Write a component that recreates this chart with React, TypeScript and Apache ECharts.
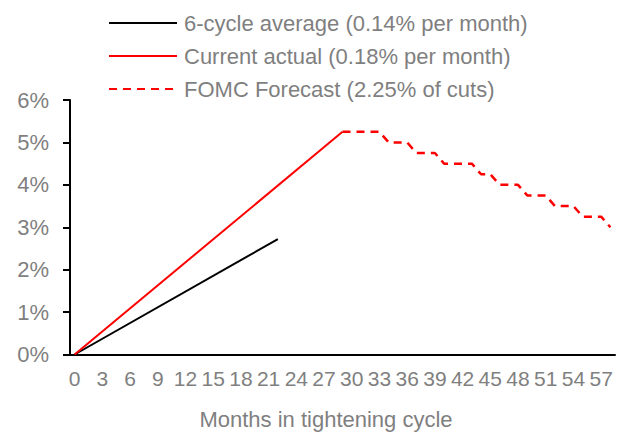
import React, { useEffect, useRef } from "react";
import * as echarts from "echarts";

const months: string[] = Array.from({ length: 59 }, (_, i) => String(i));
const yTicks = [0, 1, 2, 3, 4, 5, 6];

const avgName = "6-cycle average (0.14% per month)";
const actualName = "Current actual (0.18% per month)";
const forecastName = "FOMC Forecast (2.25% of cuts)";

// [month, rate %]
const avgPoints: [number, number][] = [
  [0, 0],
  [22, 2.72],
];
const actualPoints: [number, number][] = [
  [0, 0],
  [29, 5.25],
];
const forecastPoints: [number, number][] = [
  [29, 5.25], [33, 5.25], [34, 5.0], [36, 5.0], [37, 4.75], [39, 4.75],
  [40, 4.5], [43, 4.5], [44, 4.25], [45, 4.25], [46, 4.0], [48, 4.0],
  [49, 3.75], [51, 3.75], [52, 3.5], [54, 3.5], [55, 3.25], [57, 3.25],
  [58, 3.0],
];

const GREY = "#7f7f7f";
const FONT = "'Liberation Sans', Arial, sans-serif";

export default function App() {
  const ref = useRef<HTMLDivElement>(null);
  useEffect(() => {
    if (!ref.current) return;
    const chart = echarts.init(ref.current, undefined, { renderer: "svg" });
    chart.setOption({
      animation: false,
      backgroundColor: "#ffffff",
      textStyle: { fontFamily: FONT },
      legend: {
        orient: "vertical",
        left: 103,
        top: 7,
        itemWidth: 68,
        itemHeight: 14,
        itemGap: 11,
        itemStyle: { opacity: 0 },
        textStyle: { color: GREY, fontSize: 22, fontFamily: FONT, padding: [0, 0, 0, 2] },
        data: [avgName, actualName, forecastName],
      },
      grid: { left: 70, right: 11, top: 100, bottom: 78.5, containLabel: false },
      xAxis: {
        type: "category",
        data: months,
        boundaryGap: true,
        axisLine: { lineStyle: { color: "#000", width: 2 } },
        axisTick: { show: false },
        axisLabel: {
          interval: 2,
          color: GREY,
          fontSize: 21,
          margin: 13,
          fontFamily: FONT,
        },
        splitLine: { show: false },
      },
      yAxis: {
        type: "value",
        min: yTicks[0],
        max: yTicks[yTicks.length - 1],
        interval: 1,
        axisLine: { show: true, lineStyle: { color: "#000", width: 2 } },
        axisTick: { show: true, length: 7, lineStyle: { color: "#000", width: 2 } },
        axisLabel: { color: GREY, fontSize: 22, margin: 21, formatter: "{value}%", fontFamily: FONT },
        splitLine: { show: false },
      },
      graphic: [
        {
          type: "text",
          x: 326,
          y: 419,
          style: {
            text: "Months in tightening cycle",
            fill: GREY,
            fontSize: 22,
            fontFamily: FONT,
            align: "center",
            verticalAlign: "middle",
          },
        },
      ],
      series: [
        {
          name: avgName,
          type: "line",
          data: avgPoints,
          symbol: "none",
          lineStyle: { color: "#000000", width: 2 },
          itemStyle: { color: "#000000" },
        },
        {
          name: actualName,
          type: "line",
          data: actualPoints,
          symbol: "none",
          lineStyle: { color: "#ff0000", width: 2 },
          itemStyle: { color: "#ff0000" },
        },
        {
          name: forecastName,
          type: "line",
          data: forecastPoints,
          symbol: "none",
          lineStyle: { color: "#ff0000", width: 2.5, type: [8, 6] },
          itemStyle: { color: "#ff0000" },
        },
      ],
    });
    return () => chart.dispose();
  }, []);
  return <div ref={ref} style={{ width: 626, height: 433, position: "absolute", left: 0, top: 0 }} />;
}
